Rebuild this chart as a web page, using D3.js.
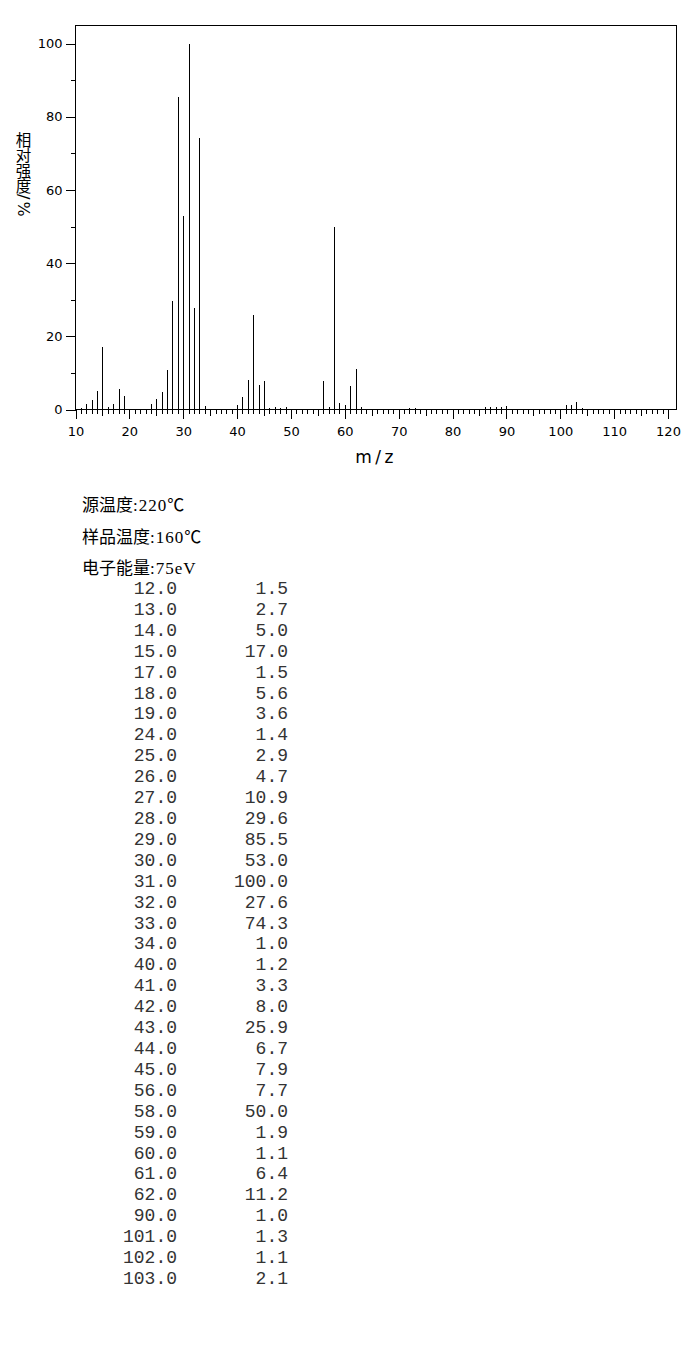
<!DOCTYPE html>
<html>
<head>
<meta charset="utf-8">
<script src="https://cdn.jsdelivr.net/npm/d3@7"></script>
<style>
  body { margin: 0; background: #fff; }
  svg { display: block; }
</style>
</head>
<body>
<div id="chart"></div>
<script>
// peaks listed in the table (m/z, relative intensity %)
var mzValues = [12, 13, 14, 15, 17, 18, 19, 24, 25, 26, 27, 28, 29, 30, 31, 32, 33, 34,
                40, 41, 42, 43, 44, 45, 56, 58, 59, 60, 61, 62, 90, 101, 102, 103];
var intensities = [1.5, 2.7, 5.0, 17.0, 1.5, 5.6, 3.6, 1.4, 2.9, 4.7, 10.9, 29.6, 85.5, 53.0, 100.0, 27.6, 74.3, 1.0,
                   1.2, 3.3, 8.0, 25.9, 6.7, 7.9, 7.7, 50.0, 1.9, 1.1, 6.4, 11.2, 1.0, 1.3, 1.1, 2.1];

// tiny peaks drawn in the spectrum but below 1% (not in the table)
var minorMz = [11, 16, 46, 47, 48, 49, 57, 63, 72, 73, 86, 87, 88, 89, 104];
var minorIntensities = [0.5, 0.8, 0.4, 0.6, 0.5, 0.6, 0.7, 0.7, 0.5, 0.5, 0.6, 0.6, 0.6, 0.6, 0.5];

var xTickLabels = [10, 20, 30, 40, 50, 60, 70, 80, 90, 100, 110, 120];
var yTickLabels = [0, 20, 40, 60, 80, 100];
var yMinorTicks = [10, 30, 50, 70, 90];

var conditions = ["源温度:220℃", "样品温度:160℃", "电子能量:75eV"];

var svgWidth = 687;
var svgHeight = 1361;

var plot = { left: 75, right: 676, top: 25, bottom: 409 };

var svg = d3.select("#chart")
  .append("svg")
  .attr("width", svgWidth)
  .attr("height", svgHeight);

svg.append("rect")
  .attr("width", svgWidth)
  .attr("height", svgHeight)
  .attr("fill", "#fff");

var x = d3.scaleLinear()
  .domain([10, 120])
  .range([75.5, 668]);

var y = d3.scaleLinear()
  .domain([0, 100])
  .range([409.5, 43.5]);

// plot frame
svg.append("rect")
  .attr("x", plot.left + 0.5)
  .attr("y", plot.top + 0.5)
  .attr("width", plot.right - plot.left)
  .attr("height", plot.bottom - plot.top)
  .attr("fill", "none")
  .attr("stroke", "#000")
  .attr("stroke-width", 1.2)
  .attr("shape-rendering", "crispEdges");

var tickFont = "'DejaVu Sans', sans-serif";
var cjkFont = "'Noto Sans CJK SC', sans-serif";

// x axis: unit ticks, 5s and labelled 10s
var unitTicks = d3.range(10, 121).filter(d => d % 5 !== 0);
var fiveTicks = d3.range(15, 121, 10);

svg.append("g")
  .attr("transform", `translate(0, ${plot.bottom + 0.5})`)
  .call(d3.axisBottom(x).tickValues(unitTicks).tickSize(4).tickFormat(""))
  .call(g => g.select(".domain").remove());

svg.append("g")
  .attr("transform", `translate(0, ${plot.bottom + 0.5})`)
  .call(d3.axisBottom(x).tickValues(fiveTicks).tickSize(6).tickFormat(""))
  .call(g => g.select(".domain").remove());

var xAxis = svg.append("g")
  .attr("transform", `translate(0, ${plot.bottom + 0.5})`)
  .call(d3.axisBottom(x).tickValues(xTickLabels).tickSize(9).tickPadding(8).tickSizeOuter(0));
xAxis.select(".domain").remove();
xAxis.selectAll("text")
  .attr("font-family", tickFont)
  .attr("font-size", "13px")
  .attr("fill", "#000");

svg.append("line")
  .attr("x1", plot.left)
  .attr("x2", plot.right + 1)
  .attr("y1", plot.bottom + 0.5)
  .attr("y2", plot.bottom + 0.5)
  .attr("stroke", "#000")
  .attr("stroke-width", 1.2)
  .attr("shape-rendering", "crispEdges");

// y axis
svg.append("g")
  .attr("transform", `translate(${plot.left + 0.5}, 0)`)
  .call(d3.axisLeft(y).tickValues(yMinorTicks).tickSize(5).tickFormat(""))
  .call(g => g.select(".domain").remove());

var yAxis = svg.append("g")
  .attr("transform", `translate(${plot.left + 0.5}, 0)`)
  .call(d3.axisLeft(y).tickValues(yTickLabels).tickSize(10).tickPadding(3));
yAxis.select(".domain").remove();
yAxis.selectAll("text")
  .attr("font-family", tickFont)
  .attr("font-size", "13px")
  .attr("fill", "#000");

svg.selectAll(".tick line")
  .attr("stroke", "#000")
  .attr("shape-rendering", "crispEdges");

// spectrum sticks
var peaks = mzValues.map((m, i) => ({ mz: m, value: intensities[i] }))
  .concat(minorMz.map((m, i) => ({ mz: m, value: minorIntensities[i] })));

svg.append("g")
  .selectAll("line")
  .data(peaks)
  .enter()
  .append("line")
  .attr("x1", d => Math.round(x(d.mz)) + 0.5)
  .attr("x2", d => Math.round(x(d.mz)) + 0.5)
  .attr("y1", y(0))
  .attr("y2", d => y(d.value))
  .attr("stroke", "#000")
  .attr("stroke-width", 1.3)
  .attr("shape-rendering", "crispEdges");

// axis titles
svg.append("text")
  .attr("x", 376)
  .attr("y", 463)
  .attr("text-anchor", "middle")
  .attr("font-family", tickFont)
  .attr("font-size", "17px")
  .attr("letter-spacing", "3.5px")
  .attr("fill", "#000")
  .text("m/z");

svg.append("text")
  .attr("x", 23.5)
  .attr("y", 132)
  .style("writing-mode", "vertical-rl")
  .attr("font-family", cjkFont)
  .attr("font-size", "15.5px")
  .attr("fill", "#000")
  .text("相对强度");

// the "/%" part lies sideways, as in vertical writing
svg.append("text")
  .attr("transform", "translate(23.5, 194) rotate(90)")
  .attr("dominant-baseline", "central")
  .attr("font-family", tickFont)
  .attr("font-size", "16px")
  .attr("letter-spacing", "2px")
  .attr("fill", "#000")
  .text("/%");

// measurement conditions: CJK runs and ASCII runs in their own fonts
var condText = svg.append("g")
  .selectAll("text")
  .data(conditions)
  .enter()
  .append("text")
  .attr("x", 82)
  .attr("y", (d, i) => 511 + i * 31.5)
  .attr("fill", "#000");

condText.selectAll("tspan")
  .data(d => d.match(/[\x00-\x7F]+|[^\x00-\x7F]+/g))
  .enter()
  .append("tspan")
  .attr("font-family", d => /^[\x00-\x7F]/.test(d) ? "'Liberation Serif', serif" : cjkFont)
  .attr("font-size", "17px")
  .attr("letter-spacing", d => /^[\x00-\x7F]/.test(d) ? "1px" : "0px")
  .text(d => d);

// peak table
var rowY = d3.scaleLinear()
  .domain([0, mzValues.length - 1])
  .range([594, 1284]);

var monoFont = "'Liberation Mono', 'DejaVu Sans Mono', monospace";

var rows = svg.append("g")
  .selectAll("g")
  .data(mzValues)
  .enter()
  .append("g");

rows.append("text")
  .attr("x", 177)
  .attr("y", (d, i) => rowY(i))
  .attr("text-anchor", "end")
  .attr("font-family", monoFont)
  .attr("font-size", "18px")
  .attr("fill", "#333")
  .text(d => d.toFixed(1));

rows.append("text")
  .attr("x", 288)
  .attr("y", (d, i) => rowY(i))
  .attr("text-anchor", "end")
  .attr("font-family", monoFont)
  .attr("font-size", "18px")
  .attr("fill", "#333")
  .text((d, i) => intensities[i].toFixed(1));
</script>
</body>
</html>
